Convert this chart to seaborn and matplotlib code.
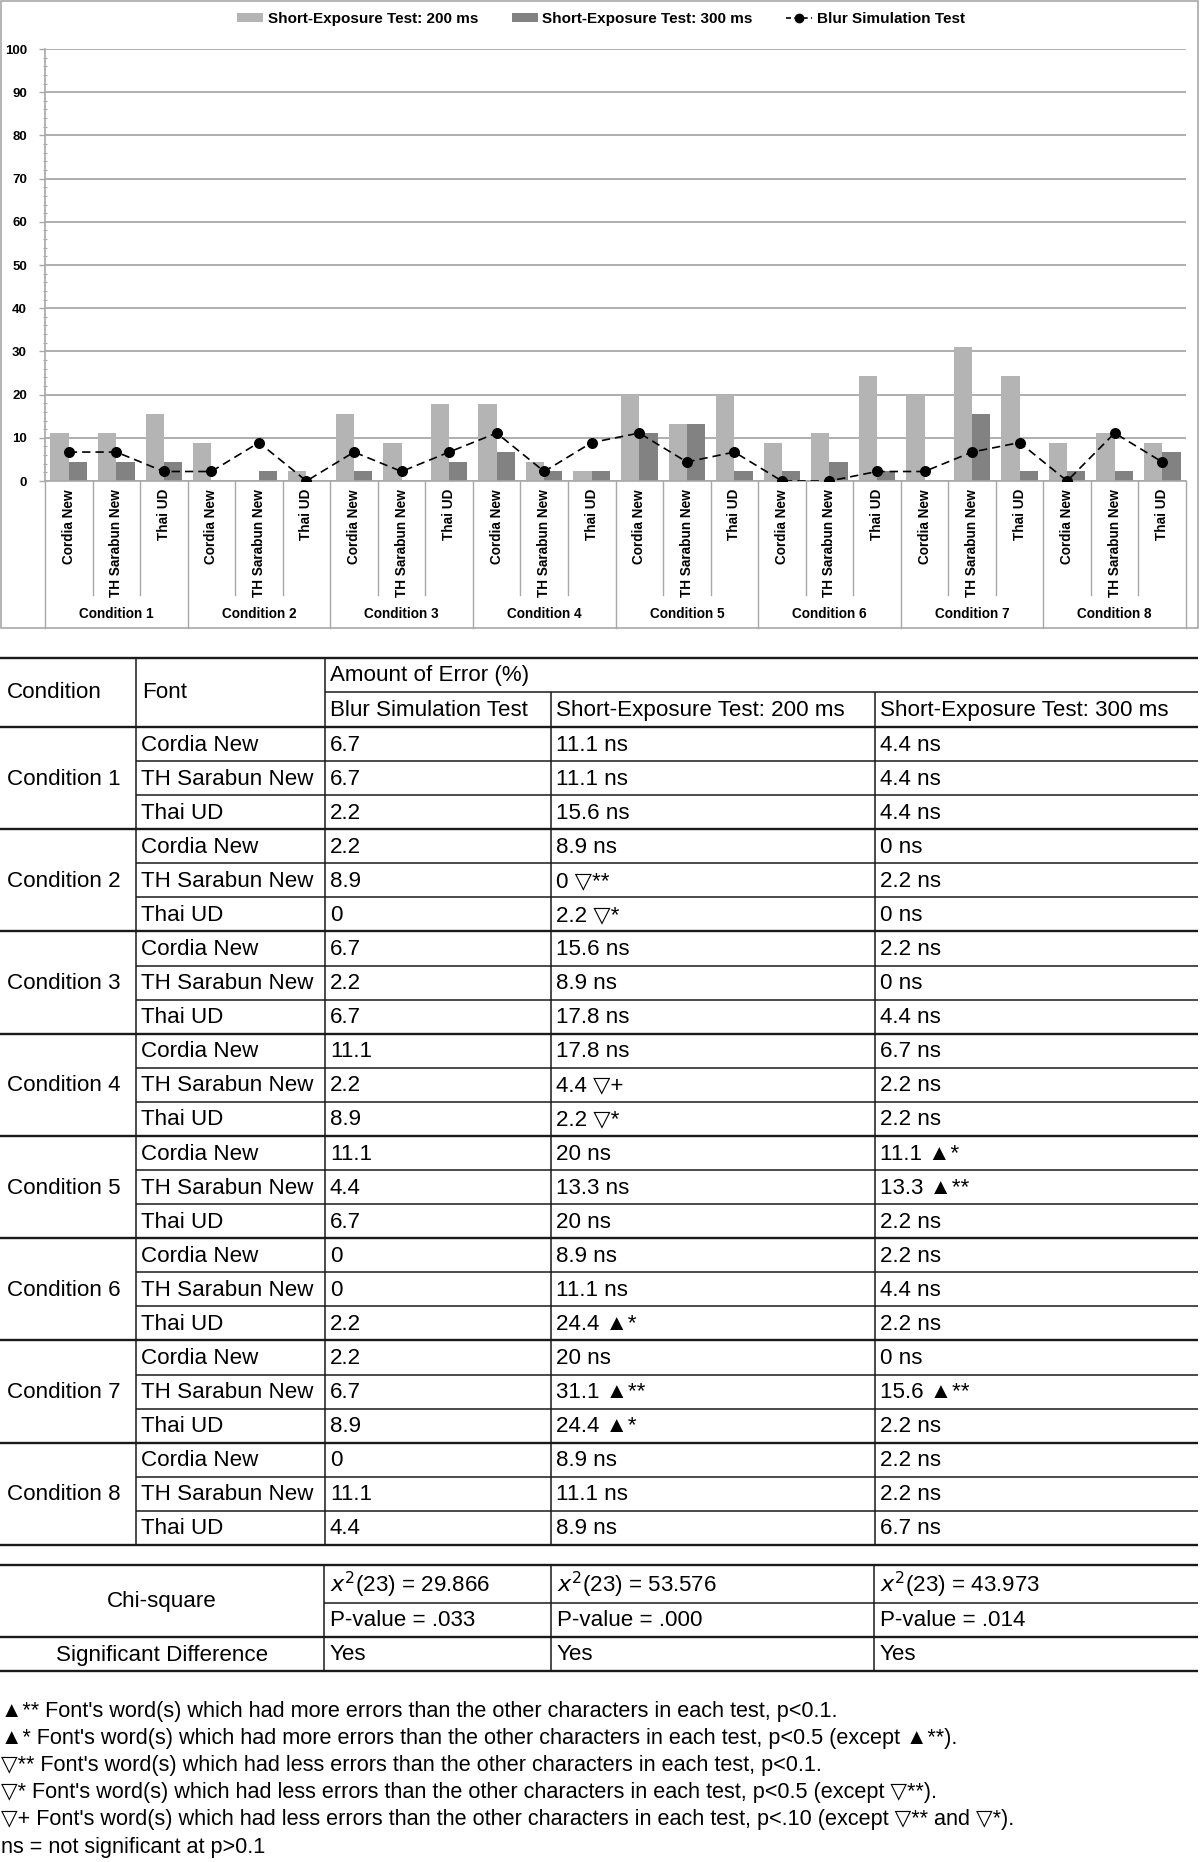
import matplotlib
matplotlib.use("Agg")
import matplotlib.pyplot as plt
import matplotlib.transforms as mtransforms
from matplotlib.patches import Patch, Rectangle
from matplotlib.lines import Line2D
from matplotlib.ticker import MultipleLocator
import seaborn as sns
import pandas as pd

# ---------------- data ----------------
conditions = ["Condition 1", "Condition 2", "Condition 3", "Condition 4",
              "Condition 5", "Condition 6", "Condition 7", "Condition 8"]
fonts = ["Cordia New", "TH Sarabun New", "Thai UD"]

blur = [6.7, 6.7, 2.2, 2.2, 8.9, 0, 6.7, 2.2, 6.7, 11.1, 2.2, 8.9,
        11.1, 4.4, 6.7, 0, 0, 2.2, 2.2, 6.7, 8.9, 0, 11.1, 4.4]
se200 = [11.1, 11.1, 15.6, 8.9, 0, 2.2, 15.6, 8.9, 17.8, 17.8, 4.4, 2.2,
         20, 13.3, 20, 8.9, 11.1, 24.4, 20, 31.1, 24.4, 8.9, 11.1, 8.9]
se300 = [4.4, 4.4, 4.4, 0, 2.2, 0, 2.2, 0, 4.4, 6.7, 2.2, 2.2,
         11.1, 13.3, 2.2, 2.2, 4.4, 2.2, 0, 15.6, 2.2, 2.2, 2.2, 6.7]
se200_sig = ["ns", "ns", "ns", "ns", "▽**", "▽*", "ns", "ns", "ns", "ns", "▽+", "▽*",
             "ns", "ns", "ns", "ns", "ns", "▲*", "ns", "▲**", "▲*", "ns", "ns", "ns"]
se300_sig = ["ns", "ns", "ns", "ns", "ns", "ns", "ns", "ns", "ns", "ns", "ns", "ns",
             "▲*", "▲**", "ns", "ns", "ns", "ns", "ns", "▲**", "ns", "ns", "ns", "ns"]

test_names = ["Blur Simulation Test", "Short-Exposure Test: 200 ms", "Short-Exposure Test: 300 ms"]
chi_square = ["29.866", "53.576", "43.973"]
p_values = [".033", ".000", ".014"]
significant = ["Yes", "Yes", "Yes"]
footnotes = [
    "▲** Font's word(s) which had more errors than the other characters in each test, p<0.1.",
    "▲* Font's word(s) which had more errors than the other characters in each test, p<0.5 (except ▲**).",
    "▽** Font's word(s) which had less errors than the other characters in each test, p<0.1.",
    "▽* Font's word(s) which had less errors than the other characters in each test, p<0.5 (except ▽**).",
    "▽+ Font's word(s) which had less errors than the other characters in each test, p<.10 (except ▽** and ▽*).",
    "ns = not significant at p>0.1",
]

# ---------------- style ----------------
plt.rcParams['font.family'] = ['Liberation Sans', 'DejaVu Sans']
LIGHT = "#b4b4b4"
DARK = "#828282"
GRID = "#a8a8a8"
W, H = 1200, 1862

fig = plt.figure(figsize=(W / 100, H / 100), dpi=100)

def fy(px):
    return 1 - px / H

ax_l, ax_r, ax_t, ax_b = 45, 1186, 49, 481
ax = fig.add_axes([ax_l / W, fy(ax_b), (ax_r - ax_l) / W, (ax_b - ax_t) / H])

keys = [f"{c}|{f}" for c in conditions for f in fonts]
df_bars = pd.DataFrame({
    "key": keys * 2,
    "value": se200 + se300,
    "test": [test_names[1]] * len(keys) + [test_names[2]] * len(keys),
})
sns.barplot(data=df_bars, x="key", y="value", hue="test", order=keys,
            hue_order=test_names[1:], palette=[LIGHT, DARK], width=0.77,
            saturation=1, errorbar=None, legend=False, ax=ax, zorder=2)
df_blur = pd.DataFrame({"key": keys, "value": blur})
sns.pointplot(data=df_blur, x="key", y="value", order=keys, color="black",
              markers="o", linestyles="--", errorbar=None, ax=ax,
              markersize=7, linewidth=1.2, zorder=4)
for ln in ax.lines:
    ln.set_dashes([5, 3])

ax.set_ylim(0, 100)
ax.set_xlim(-0.5, len(keys) - 0.5)
ax.yaxis.set_major_locator(MultipleLocator(10))
ax.yaxis.set_minor_locator(MultipleLocator(2))
ax.yaxis.grid(True, which="major", color=GRID, lw=1.3)
ax.set_axisbelow(True)
for s in ["top", "right"]:
    ax.spines[s].set_visible(False)
for s in ["left", "bottom"]:
    ax.spines[s].set_color(GRID)
    ax.spines[s].set_linewidth(1.2)
ax.tick_params(axis="y", which="major", length=4, width=1, color=GRID, pad=9,
               labelsize=9.5)
ax.tick_params(axis="y", which="minor", length=3, width=0.8, color=GRID, direction="inout")
for lab in ax.get_yticklabels():
    lab.set_fontweight("bold")
ax.set_xlabel("")
ax.set_ylabel("")
xpos = list(ax.get_xticks())
ax.set_xticks([])

# category labels & separators under the axis
tr = mtransforms.blended_transform_factory(ax.transData, fig.transFigure)
for i, x in enumerate(xpos):
    ax.text(x, fy(489), fonts[i % 3], rotation=90, ha="center", va="top",
            fontsize=9.8, fontweight="bold", transform=tr, clip_on=False)
for i in range(len(xpos) + 1):
    x = i - 0.5
    ybot = 628 if i % 3 == 0 else 595
    ax.add_line(Line2D([x, x], [fy(ax_b), fy(ybot)], color=GRID, lw=1,
                       transform=tr, clip_on=False))
for c, name in enumerate(conditions):
    ax.text(xpos[3 * c + 1], fy(614), name, ha="center", va="center",
            fontsize=9.8, fontweight="bold", transform=tr, clip_on=False)

# legend
handles = [Patch(facecolor=LIGHT, edgecolor="none"),
           Patch(facecolor=DARK, edgecolor="none"),
           Line2D([], [], color="black", ls="--", dashes=[3, 2], lw=1.2,
                  marker="o", markersize=6)]
fig.legend(handles, [test_names[1], test_names[2], test_names[0]],
           loc="center", bbox_to_anchor=(601 / W, fy(19)), ncol=3, frameon=False,
           prop={"weight": "bold", "size": 11}, handlelength=1.7,
           handletextpad=0.3, columnspacing=2.2, handleheight=0.6)

# ---------------- overlay for border and tables ----------------
tax = fig.add_axes([0, 0, 1, 1], facecolor="none")
tax.set_xlim(0, W)
tax.set_ylim(H, 0)
tax.axis("off")
tax.add_patch(Rectangle((1, 1), 1197, 627, fill=False, edgecolor=GRID, lw=1.2))

LC = "#1a1a1a"
MAJ, MIN = 1.7, 1.1
FS = 16.1
cx = [0, 136, 325, 551, 875, 1198]
top, sub, hdr_b, row_h = 658, 692, 727, 34.08
n = len(keys)
body_b = hdr_b + n * row_h

tax.hlines(top, 0, cx[-1], color=LC, lw=MAJ)
tax.hlines(sub, cx[2], cx[-1], color=LC, lw=MIN)
tax.hlines(hdr_b, 0, cx[-1], color=LC, lw=MAJ)
for r in range(1, n):
    y = hdr_b + r * row_h
    if r % 3 == 0:
        tax.hlines(y, 0, cx[-1], color=LC, lw=MAJ)
    else:
        tax.hlines(y, cx[1], cx[-1], color=LC, lw=MIN)
tax.hlines(body_b, 0, cx[-1], color=LC, lw=MAJ)
tax.vlines([cx[1], cx[2]], top, body_b, color=LC, lw=MIN)
tax.vlines([cx[3], cx[4]], sub, body_b, color=LC, lw=MIN)

tax.text(7, (top + hdr_b) / 2, "Condition", fontsize=FS, va="center")
tax.text(cx[1] + 6, (top + hdr_b) / 2, "Font", fontsize=FS, va="center")
tax.text(cx[2] + 5, (top + sub) / 2, "Amount of Error (%)", fontsize=FS, va="center")
for j, t in enumerate(test_names):
    tax.text(cx[2 + j] + 5, (sub + hdr_b) / 2 + 1, t, fontsize=FS, va="center")

def fmt(v):
    return f"{v:g}"

for r in range(n):
    yc = hdr_b + (r + 0.5) * row_h + 1
    tax.text(cx[1] + 5, yc, fonts[r % 3], fontsize=FS, va="center")
    tax.text(cx[2] + 5, yc, fmt(blur[r]), fontsize=FS, va="center")
    tax.text(cx[3] + 5, yc, f"{fmt(se200[r])} {se200_sig[r]}", fontsize=FS, va="center")
    tax.text(cx[4] + 5, yc, f"{fmt(se300[r])} {se300_sig[r]}", fontsize=FS, va="center")
for c, name in enumerate(conditions):
    yc = hdr_b + (3 * c + 1.5) * row_h + 1
    tax.text(7, yc, name, fontsize=FS, va="center")

# second table
t2 = [1565, 1603, 1637, 1671]
cx2 = [0, 324, 551, 874, 1198]
tax.hlines(t2[0], 0, cx2[-1], color=LC, lw=MAJ)
tax.hlines(t2[1], cx2[1], cx2[-1], color=LC, lw=MIN)
tax.hlines(t2[2], 0, cx2[-1], color=LC, lw=MAJ)
tax.hlines(t2[3], 0, cx2[-1], color=LC, lw=MAJ)
tax.vlines(cx2[1:4], t2[0], t2[3], color=LC, lw=MIN)
tax.text(162, (t2[0] + t2[2]) / 2, "Chi-square", fontsize=FS, ha="center", va="center")
tax.text(162, (t2[2] + t2[3]) / 2 + 1, "Significant Difference", fontsize=FS,
         ha="center", va="center")
for j in range(3):
    x = cx2[1 + j] + 6
    tax.text(x, (t2[0] + t2[1]) / 2 + 1, rf"$x^2$(23) = {chi_square[j]}", fontsize=FS, va="center")
    tax.text(x, (t2[1] + t2[2]) / 2 + 1, f"P-value = {p_values[j]}", fontsize=FS, va="center")
    tax.text(x, (t2[2] + t2[3]) / 2 + 1, significant[j], fontsize=FS, va="center")

for k, line in enumerate(footnotes):
    tax.text(1, 1711 + k * 27.2, line, fontsize=15.6, va="center")

fig.savefig("out.png", dpi=100)
